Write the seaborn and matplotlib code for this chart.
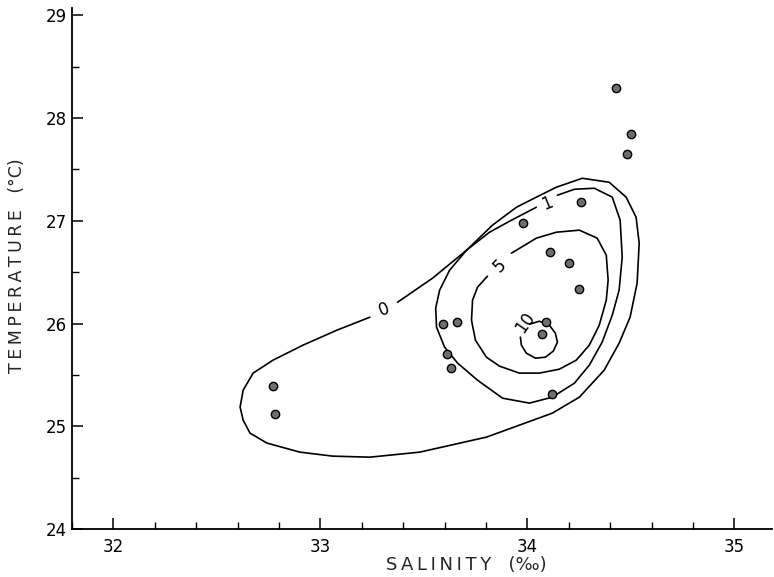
import matplotlib
matplotlib.use("Agg")
import matplotlib.pyplot as plt
from matplotlib.ticker import MultipleLocator
import seaborn as sns
import pandas as pd

# Station observations (salinity ‰, temperature °C)
salinity = [34.43, 34.50, 34.48, 34.26, 33.98, 34.11, 34.20, 34.25, 33.59,
            33.66, 34.09, 34.07, 33.61, 33.63, 34.12, 32.77, 32.78]
temperature = [28.29, 27.84, 27.65, 27.18, 26.98, 26.70, 26.59, 26.34, 26.00,
               26.02, 26.02, 25.90, 25.70, 25.57, 25.31, 25.39, 25.12]

# Hand-drawn contour paths, with label gaps
c0_s = [33.373, 33.542, 33.706, 33.831, 33.947, 34.043, 34.140, 34.265, 34.395,
        34.477, 34.525, 34.540, 34.530, 34.496, 34.443, 34.371, 34.251, 34.120,
        33.802, 33.480, 33.239, 33.060, 32.901, 32.742, 32.660, 32.627, 32.612,
        32.627, 32.675, 32.771, 32.916, 33.080, 33.239]
c0_t = [26.208, 26.442, 26.714, 26.957, 27.132, 27.230, 27.327, 27.414, 27.375,
        27.230, 27.035, 26.782, 26.393, 26.062, 25.809, 25.547, 25.284, 25.128,
        24.895, 24.749, 24.700, 24.710, 24.749, 24.837, 24.934, 25.060, 25.187,
        25.352, 25.518, 25.644, 25.790, 25.936, 26.062]

c1_s = [34.145, 34.227, 34.323, 34.410, 34.448, 34.458, 34.443, 34.410, 34.361,
        34.299, 34.227, 34.120, 34.010, 33.880, 33.759, 33.663, 33.600, 33.561,
        33.557, 33.576, 33.624, 33.706, 33.817, 33.923, 34.043]
c1_t = [27.249, 27.307, 27.317, 27.230, 27.006, 26.646, 26.325, 26.082, 25.819,
        25.595, 25.420, 25.284, 25.226, 25.274, 25.449, 25.615, 25.770, 25.965,
        26.150, 26.325, 26.519, 26.714, 26.889, 27.006, 27.132]

c5_s = [33.923, 34.043, 34.140, 34.251, 34.337, 34.381, 34.390, 34.381, 34.347,
        34.299, 34.236, 34.154, 34.058, 33.961, 33.865, 33.802, 33.749, 33.730,
        33.735, 33.759, 33.807]
c5_t = [26.685, 26.831, 26.889, 26.909, 26.831, 26.665, 26.422, 26.228, 25.984,
        25.790, 25.644, 25.556, 25.518, 25.518, 25.586, 25.673, 25.838, 26.033,
        26.228, 26.354, 26.461]

c10_s = [34.010, 34.058, 34.106, 34.135, 34.145, 34.125, 34.087, 34.039, 33.995,
         33.971, 33.966]
c10_t = [25.994, 26.023, 25.984, 25.907, 25.819, 25.732, 25.673, 25.663, 25.712,
         25.790, 25.868]

contour_labels = ["0", "1", "5", "10"]
label_s = [33.306, 34.096, 33.865, 33.990]
label_t = [26.140, 27.170, 26.560, 26.010]
label_rot = [20, 22, 45, 55]

x_ticks = [32, 33, 34, 35]
y_ticks = [24, 25, 26, 27, 28, 29]

TS = "\u2009"  # thin space for letter spacing
x_label = TS.join("SALINITY") + "   (‰)"
y_label = TS.join("TEMPERATURE") + "   (°C)"

sns.set_theme(style="ticks")
plt.rcParams['font.family'] = ['DejaVu Sans']

fig = plt.figure(figsize=(7.74, 5.77), dpi=100)
ax = fig.add_axes([0.093, 0.083, 0.904, 0.903])

for cs, ct in [(c0_s, c0_t), (c1_s, c1_t), (c5_s, c5_t), (c10_s, c10_t)]:
    df = pd.DataFrame({"s": cs, "t": ct})
    sns.lineplot(data=df, x="s", y="t", sort=False, estimator=None,
                 color="black", linewidth=1.2, ax=ax)

pts = pd.DataFrame({"s": salinity, "t": temperature})
sns.scatterplot(data=pts, x="s", y="t", s=36, color="#6e6e6e",
                edgecolor="black", linewidth=1.0, ax=ax, zorder=3)

for lab, s, t, r in zip(contour_labels, label_s, label_t, label_rot):
    ax.text(s, t, lab, rotation=r, ha="center", va="center", fontsize=12,
            color="black")

ax.set_xlim(31.80, 35.18)
ax.set_ylim(24, 29.07)
ax.set_xticks(x_ticks)
ax.set_yticks(y_ticks)
ax.xaxis.set_minor_locator(MultipleLocator(0.2))
ax.yaxis.set_minor_locator(MultipleLocator(0.5))
ax.tick_params(which="major", direction="in", length=8, width=1.1,
               labelsize=12, colors="black")
ax.tick_params(which="minor", direction="in", length=5, width=1.0,
               colors="black")
ax.tick_params(axis="x", which="major", pad=6.5)
ax.tick_params(axis="y", which="major", pad=3.5)
for sp in ["top", "right"]:
    ax.spines[sp].set_visible(False)
for sp in ["left", "bottom"]:
    ax.spines[sp].set_linewidth(1.3)
    ax.spines[sp].set_color("black")

ax.set_xlabel(x_label, fontsize=13)
ax.xaxis.set_label_coords(0.563, -0.052)
ax.set_ylabel(y_label, fontsize=12.5)
ax.yaxis.set_label_coords(-0.066, 0.505)

fig.savefig("out.png", dpi=100, facecolor="white")
